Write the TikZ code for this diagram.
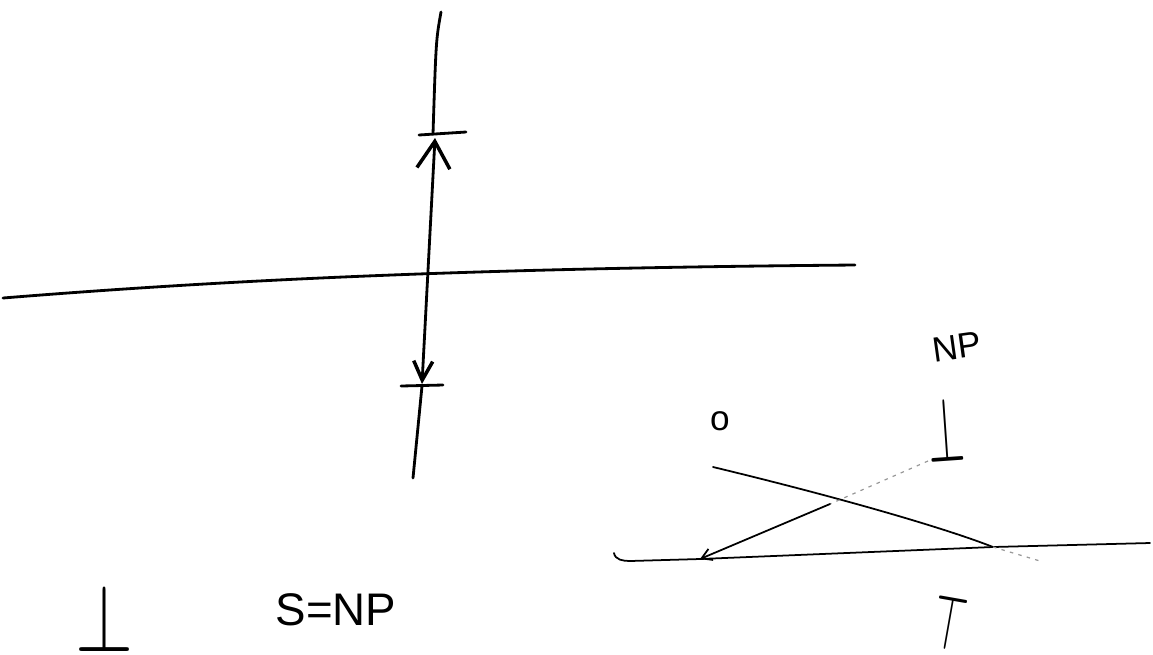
\documentclass[tikz,border=0pt]{standalone}
\usepackage{fontspec}
\setmainfont{Liberation Sans}
\usepackage{graphicx}
\usetikzlibrary{arrows.meta}

\begin{document}
\begin{tikzpicture}[x=0.02cm, y=-0.02cm,
        pen/.style={line width=1.6pt, line cap=round},
        finepen/.style={line width=1pt, line cap=round},
        faint/.style={line width=0.7pt, black!40, dash pattern=on 2pt off 3pt},
        bigbarb/.tip={Straight Barb[length=5.4mm, width=6.6mm, line width=2pt]},
        smallbarb/.tip={Straight Barb[length=3.8mm, width=3.8mm, line width=2pt]},
        sym/.style={inner sep=0pt, outer sep=0pt},
        every node/.style={inner sep=0pt}]
        \useasboundingbox (0,0) rectangle (1153,654);

        % vertical measure with its two ticks
        \coordinate (vtop) at (441,12);
        \coordinate (vstop) at (433,134);
        \coordinate (up) at (435,138);
        \coordinate (down) at (422,384);
        \coordinate (vlow) at (422,386);
        \coordinate (vbot) at (413,478);
        \coordinate (tickAl) at (419,135);
        \coordinate (tickAr) at (466,132);
        \coordinate (tickBl) at (401,386);
        \coordinate (tickBr) at (443,385);
        \draw[pen] (vtop) .. controls (436,40) .. (vstop);
        \draw[pen] (tickAl) -- (tickAr);
        \draw[pen, bigbarb-smallbarb] (up) -- (down);
        \draw[pen] (tickBl) -- (tickBr);
        \draw[pen] (vlow) -- (vbot);

        % horizontal line
        \coordinate (hleft) at (3,298);
        \coordinate (hright) at (855,265);
        \draw[pen] (hleft) .. controls (250,278) and (500,268) .. (hright);

        % bottom left
        \node[sym] (bot) at (104,618) {\resizebox{1.16cm}{1.34cm}{$\bot$}};
        \node[font=\fontsize{26}{26}\selectfont] (snp) at (336,610) {S=NP};

        % bottom right
        \node[font=\fontsize{20}{20}\selectfont] (o) at (720,421) {o};
        \node[font=\fontsize{20}{20}\selectfont, rotate=8] (np) at (957,347) {NP};
        \node[sym, rotate=4] (npbot) at (946,429) {\resizebox{0.74cm}{1.28cm}{$\bot$}};
        \node[sym, rotate=-10] (top) at (949,623) {\resizebox{0.66cm}{1.08cm}{$\top$}};

        \coordinate (npfoot) at (928,461);
        \coordinate (npmid) at (830,504);
        \coordinate (hit) at (700,559);
        \coordinate (lhook) at (614,553);
        \coordinate (lstart) at (630,561);
        \coordinate (cross) at (993,547);
        \coordinate (lend) at (1150,543);
        \coordinate (ostart) at (713,467);
        \coordinate (oend) at (1040,561);

        \draw[finepen] (lhook) to[out=-80, in=180] (lstart) -- (hit) -- (cross) -- (lend);
        \draw[finepen] (ostart) .. controls (850,500) and (950,530) .. (cross);
        \draw[faint] (cross) -- (oend);
        \draw[faint] (npfoot) -- (npmid);
        \draw[finepen, -{Straight Barb[length=2mm, width=2.4mm]}] (npmid) -- (hit);
\end{tikzpicture}
\end{document}
